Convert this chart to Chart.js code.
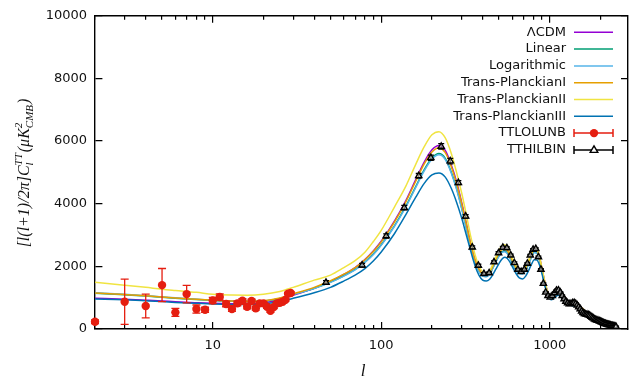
<!DOCTYPE html>
<html><head><meta charset="utf-8">
<script src="https://cdn.jsdelivr.net/npm/chart.js@4/dist/chart.umd.min.js"></script>
<style>html,body{margin:0;padding:0;background:#fff}</style>
</head><body>
<canvas id="c" width="633" height="378"></canvas>
<script>
const lGrid=[2,3,4,5,6,8,10,13,16,20,25,30,40,50,60,70,80,90,100,120,140,160,180,200,220,240,260,280,300,320,340,360,380,400,420,440,460,480,500,520,540,560,580,600,630,660,690,720,750,780,810,840,870,900,940,980,1020,1070,1120,1170,1230,1300,1370,1440,1500,1600,1700,1800,1900,2000,2100,2200,2300,2400,2500];
const lcdm=[980,950,920,895,870,840,820,805,800,830,940,1080,1300,1520,1740,1960,2220,2500,2800,3450,4100,4760,5330,5720,5860,5700,5250,4700,4050,3380,2720,2230,1930,1770,1750,1830,2030,2250,2440,2570,2600,2540,2380,2200,1980,1850,1840,1960,2170,2400,2560,2540,2300,1920,1460,1150,1030,1120,1230,1170,1020,870,830,820,740,610,480,410,350,300,250,200,160,125,95];
const linear=[1140,1090,1050,1010,980,940,910,885,875,890,975,1100,1300,1500,1700,1900,2140,2400,2690,3300,3920,4540,5090,5460,5600,5450,5020,4490,3870,3230,2600,2130,1850,1700,1680,1760,1950,2160,2340,2460,2490,2430,2280,2110,1900,1780,1770,1880,2080,2300,2450,2430,2200,1840,1400,1100,990,1070,1180,1120,980,830,790,785,710,585,460,395,335,288,240,192,153,120,91];
const logarithmic=[1160,1110,1065,1025,995,950,920,893,882,895,978,1100,1295,1490,1690,1885,2125,2380,2670,3280,3895,4510,5050,5420,5560,5410,4990,4460,3850,3210,2590,2120,1840,1690,1670,1750,1940,2150,2320,2440,2470,2410,2270,2100,1890,1770,1760,1870,2070,2290,2440,2420,2190,1830,1390,1095,985,1065,1170,1115,975,828,788,780,705,580,457,392,333,286,238,190,152,119,90];
const transPlanckI=[1150,1100,1060,1020,990,950,920,895,885,900,990,1120,1330,1540,1750,1960,2210,2480,2780,3420,4060,4710,5270,5650,5790,5630,5200,4650,4010,3350,2700,2210,1910,1750,1730,1810,2010,2230,2420,2540,2570,2510,2360,2180,1960,1830,1820,1940,2150,2380,2530,2510,2280,1900,1450,1140,1020,1110,1220,1160,1010,860,820,810,730,600,475,405,345,297,247,198,158,123,94];
const transPlanckII=[1490,1400,1330,1270,1230,1170,1110,1085,1080,1110,1200,1330,1560,1720,1960,2180,2450,2800,3150,3900,4560,5250,5820,6200,6300,6100,5620,5000,4350,3650,2950,2380,2020,1820,1780,1860,2070,2310,2520,2650,2690,2620,2450,2260,2020,1880,1870,1990,2200,2430,2580,2560,2310,1930,1465,1155,1035,1125,1235,1175,1025,872,832,822,742,612,482,411,351,301,251,201,161,126,96];
const transPlanckIII=[960,930,900,875,850,820,800,785,780,800,880,980,1160,1330,1530,1720,1930,2180,2460,3050,3650,4200,4650,4920,4980,4850,4500,4050,3550,3000,2480,2030,1720,1560,1530,1590,1740,1920,2090,2230,2290,2250,2140,1990,1780,1630,1600,1690,1870,2070,2210,2200,2040,1760,1340,1060,930,1000,1080,1020,900,780,740,720,650,540,420,360,310,265,220,178,140,115,88];

const lowL=[2,3,4,5,6,7,8,9,10,11,12,13,14,15,16,17,18,19,20,21,22,23,24,25,26,27,28,29];
const lowLVal=[233,870,733,1401,531,1115,637,615,910,1020,800,640,818,900,710,892,660,818,818,710,583,700,818,838,870,930,1130,1150];
const lowLErr=[60,720,380,530,130,280,130,80,100,100,90,80,75,70,65,60,58,55,52,50,48,46,44,42,40,38,36,35];

const hiL=[47,77,107,137,167,197,227,257,287,317,347,377,407,437,467,497,527,557,587,617,647,677,707,737,767,797,827,857,887,917,947,977,1007,1037,1067,1097,1127,1157,1187,1217,1247,1277,1307,1337,1367,1397,1427,1457,1487,1517,1547,1577,1607,1637,1667,1697,1727,1757,1787,1817,1847,1877,1907,1937,1967,1997,2027,2057,2087,2117,2147,2177,2207,2237,2267,2297,2327,2357,2387,2417,2447,2477];
const hiLVal=[1487,2038,2971,3875,4890,5468,5830,5360,4672,3599,2610,2030,1765,1790,2140,2430,2600,2590,2357,2112,1900,1826,1900,2093,2357,2540,2560,2300,1900,1450,1170,1060,1010,1060,1150,1230,1240,1170,1060,960,880,830,800,810,830,840,810,760,700,640,570,520,490,470,460,450,430,400,370,340,315,295,280,268,255,240,222,205,190,176,165,155,145,135,125,116,107,100,93,86,80,74];
const hiLErr=[55,60,65,70,75,85,90,85,65,55,45,38,32,32,34,36,36,34,32,30,28,26,26,26,28,28,28,26,24,22,20,20,20,20,20,20,20,20,20,20,20,20,20,20,20,20,20,20,20,20,20,20,20,20,20,20,20,20,20,20,20,20,20,20,20,20,20,20,20,20,20,20,20,20,20,20,20,20,20,20,20,20];

const xMajorTicks=[10,100,1000];
const xMinorTicks=[2,3,4,5,6,7,8,9,20,30,40,50,60,70,80,90,200,300,400,500,600,700,800,900,2000];
const yTicks=[0,2000,4000,6000,8000,10000];
const seriesNames=['\u039bCDM','Linear','Logarithmic','Trans-PlanckianI','Trans-PlanckianII','Trans-PlanckianIII','TTLOLUNB','TTHILBIN'];
const seriesColors=['#9400d3','#009e73','#56b4e9','#e69f00','#f0e442','#0072b2','#e51e10','#000000'];

const pts=(xs,ys)=>xs.map((x,i)=>({x:x,y:ys[i]}));
const curves=[lcdm,linear,logarithmic,transPlanckI,transPlanckII,transPlanckIII];
const datasets=curves.map((arr,i)=>({
  label:seriesNames[i],data:pts(lGrid,arr),borderColor:seriesColors[i],backgroundColor:seriesColors[i],
  borderWidth:1.5,pointRadius:0,cubicInterpolationMode:'monotone',fill:false,order:10-i
}));
datasets.push({label:seriesNames[6],data:pts(lowL,lowLVal),errors:lowLErr,errColor:seriesColors[6],cap:4,
  showLine:false,pointStyle:'circle',pointRadius:4.2,borderWidth:0,backgroundColor:seriesColors[6],borderColor:seriesColors[6],order:2,clip:false});
datasets.push({label:seriesNames[7],data:pts(hiL,hiLVal),errors:hiLErr,errColor:'#000',cap:3,
  showLine:false,pointStyle:'triangle',pointRadius:3.6,borderWidth:1.4,backgroundColor:'rgba(255,255,255,0.5)',borderColor:'#000',order:1});

const errPlugin={id:'errbars',beforeDatasetDraw(chart,args){
  const ds=chart.data.datasets[args.index]; if(!ds.errors) return;
  const xs=chart.scales.x, ys=chart.scales.y, ctx=chart.ctx, a=chart.chartArea;
  ctx.save(); ctx.strokeStyle=ds.errColor; ctx.lineWidth=1.3;
  ds.data.forEach((p,i)=>{const e=ds.errors[i]; const px=xs.getPixelForValue(p.x);
    const y1=Math.min(a.bottom,ys.getPixelForValue(p.y-e)), y2=ys.getPixelForValue(p.y+e);
    ctx.beginPath(); ctx.moveTo(px,y1); ctx.lineTo(px,y2);
    ctx.moveTo(px-ds.cap,y1); ctx.lineTo(px+ds.cap,y1);
    ctx.moveTo(px-ds.cap,y2); ctx.lineTo(px+ds.cap,y2); ctx.stroke();});
  ctx.restore();}};

const legendPlugin={id:'customleg',afterDraw(chart){
  const ctx=chart.ctx;
  ctx.save();
  ctx.font='13px "DejaVu Sans"'; ctx.textAlign='right'; ctx.textBaseline='middle'; ctx.fillStyle='#111';
  const x0=574,x1=613,xm=594;
  seriesNames.forEach((n,i)=>{const y=32.3+i*16.8;
    ctx.fillText(n,566,y);
    ctx.strokeStyle=seriesColors[i]; ctx.lineWidth=1.5;
    ctx.beginPath(); ctx.moveTo(x0,y); ctx.lineTo(x1,y);
    if(i>=6){ctx.moveTo(x0,y-4);ctx.lineTo(x0,y+4);ctx.moveTo(x1,y-4);ctx.lineTo(x1,y+4);}
    ctx.stroke();
    if(i===6){ctx.fillStyle=seriesColors[6];ctx.beginPath();ctx.arc(xm,y,4.2,0,Math.PI*2);ctx.fill();ctx.fillStyle='#111';}
    if(i===7){ctx.fillStyle='#fff';ctx.lineWidth=1.4;ctx.strokeStyle='#000';ctx.beginPath();ctx.moveTo(xm,y-4);ctx.lineTo(xm+3.8,y+2.5);ctx.lineTo(xm-3.8,y+2.5);ctx.closePath();ctx.fill();ctx.stroke();ctx.fillStyle='#111';}
  });
  ctx.fillStyle='#111'; ctx.textAlign='center'; ctx.textBaseline='alphabetic';
  ctx.font='italic 17px "Liberation Serif"'; ctx.fillText('l',363,376);
  ctx.translate(29,173); ctx.rotate(-Math.PI/2);
  const big='italic 16px "Liberation Serif"', small='italic 11px "Liberation Serif"';
  const parts=[['t','[l(l+1)/2\u03c0]C'],['s','l','TT'],['t','(\u03bcK'],['s','CMB','2'],['t',')']];
  let w=0; const widths=parts.map(p=>{let ww; if(p[0]==='t'){ctx.font=big;ww=ctx.measureText(p[1]).width;}else{ctx.font=small;ww=Math.max(ctx.measureText(p[1]).width,ctx.measureText(p[2]).width)+1;} w+=ww; return ww;});
  let x=-w/2; ctx.textAlign='left';
  parts.forEach((p,i)=>{ if(p[0]==='t'){ctx.font=big;ctx.fillText(p[1],x,0);} else {ctx.font=small;ctx.fillText(p[1],x,4);ctx.fillText(p[2],x,-7);} x+=widths[i];});
  ctx.restore();
}};

// inward tick marks: grid lines dashed so only their two ends show
const xTickDash=c=>{const h=c.chart.chartArea.height; const L=(c.tick&&xMajorTicks.includes(c.tick.value))?7:4; return [L,h-2*L,L,2000];};
const yTickDash=c=>{const w=c.chart.chartArea.width; return [7,w-14,7,2000];};
const hiddenGrid={display:false};
const plainBorder={display:true,color:'#000',width:1.4};
new Chart(document.getElementById('c'),{
  type:'line',
  data:{datasets:datasets},
  options:{responsive:false,animation:false,
    layout:{padding:{left:0,right:5,top:8,bottom:0}},
    plugins:{legend:{display:false},tooltip:{enabled:false}},
    scales:{
      x:{type:'logarithmic',position:'bottom',min:2,max:2900,
        grid:{display:true,drawOnChartArea:true,drawTicks:false,color:'#000',lineWidth:1.2},
        border:{display:true,color:'#000',width:1.4,dash:xTickDash},
        afterBuildTicks:s=>{s.ticks=xMinorTicks.concat(xMajorTicks).sort((a,b)=>a-b).map(v=>({value:v}));},
        afterFit:s=>{s.height=49;},
        ticks:{autoSkip:false,maxRotation:0,padding:9,color:'#111',font:{family:'DejaVu Sans',size:13},
          callback:v=>xMajorTicks.includes(v)?String(v):''}},
      x2:{type:'logarithmic',position:'top',min:2,max:2900,
        grid:hiddenGrid,border:plainBorder,
        afterBuildTicks:s=>{s.ticks=xMajorTicks.map(v=>({value:v}));},
        afterFit:s=>{s.height=0;},
        ticks:{display:false}},
      y:{type:'linear',position:'left',min:0,max:10000,
        grid:{display:true,drawOnChartArea:true,drawTicks:false,color:'#000',lineWidth:1.2},
        border:{display:true,color:'#000',width:1.4,dash:yTickDash},
        afterBuildTicks:s=>{s.ticks=yTicks.map(v=>({value:v}));},
        afterFit:s=>{s.width=95;},
        ticks:{padding:8,color:'#111',font:{family:'DejaVu Sans',size:13},callback:v=>String(v)}},
      y2:{type:'linear',position:'right',min:0,max:10000,
        grid:hiddenGrid,border:plainBorder,
        afterBuildTicks:s=>{s.ticks=yTicks.map(v=>({value:v}));},
        afterFit:s=>{s.width=0;},
        ticks:{display:false}}
    }},
  plugins:[errPlugin,legendPlugin]
});
</script>
</body></html>
